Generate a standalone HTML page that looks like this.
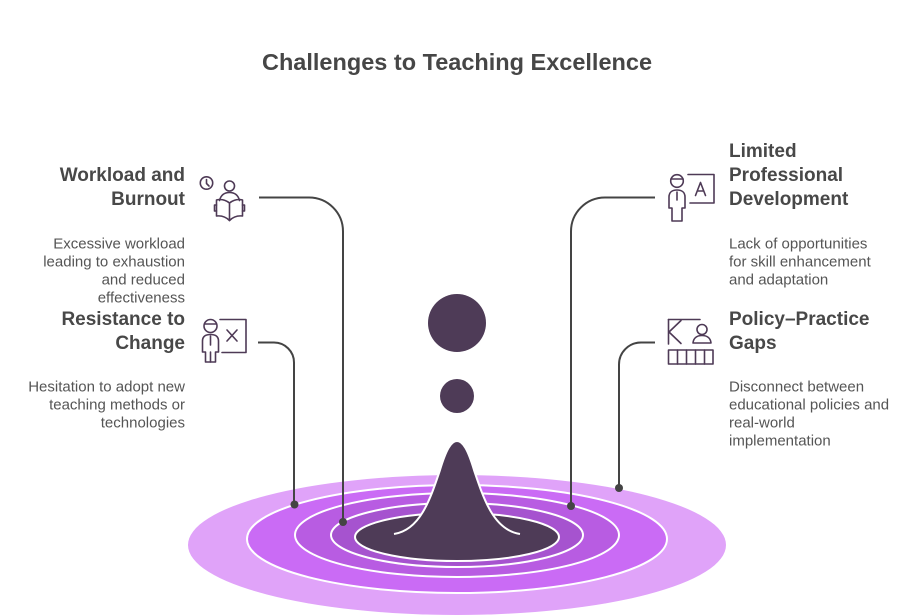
<!DOCTYPE html>
<html>
<head>
<meta charset="utf-8">
<style>
  html, body { margin: 0; padding: 0; background: #ffffff; }
  body { width: 921px; height: 616px; overflow: hidden; }
  svg { display: block; }
  .title { font-family: "Liberation Sans", sans-serif; font-weight: bold; font-size: 23.5px; fill: #464646; }
  .h { font-family: "Liberation Sans", sans-serif; font-weight: bold; font-size: 19px; fill: #484848; }
  .d { font-family: "Liberation Sans", sans-serif; font-size: 15px; fill: #555555; }
  .ic { fill: none; stroke: #4E3A56; stroke-width: 1.6; stroke-linecap: round; stroke-linejoin: round; }
  .cn { fill: none; stroke: #444444; stroke-width: 2; }
</style>
</head>
<body>
<svg width="921" height="616" viewBox="0 0 921 616" xmlns="http://www.w3.org/2000/svg">
  <!-- Title -->
  <text class="title" x="457" y="70" text-anchor="middle">Challenges to Teaching Excellence</text>

  <!-- Ripple ellipses -->
  <ellipse cx="457" cy="545" rx="269" ry="70" fill="#E0A3F9"/>
  <ellipse cx="457" cy="539" rx="210" ry="54" fill="#CA6BF5" stroke="#ffffff" stroke-width="2"/>
  <ellipse cx="457" cy="535" rx="162" ry="42" fill="#B85CE2" stroke="#ffffff" stroke-width="2"/>
  <ellipse cx="457" cy="535" rx="126" ry="32" fill="#A653CF" stroke="#ffffff" stroke-width="2"/>
  <ellipse cx="457" cy="537" rx="102" ry="24" fill="#4E3B57" stroke="#ffffff" stroke-width="2"/>

  <!-- Peak -->
  <path d="M394,534 C420,530 430,500 440,470 C446,450 451,441 457,441 C463,441 468,450 474,470 C484,500 494,530 520,534 L520,545 L394,545 Z" fill="#4E3B57"/>
  <path d="M394,534 C420,530 430,500 440,470 C446,450 451,441 457,441 C463,441 468,450 474,470 C484,500 494,530 520,534" fill="none" stroke="#ffffff" stroke-width="2" stroke-linejoin="round"/>

  <!-- Floating drops -->
  <circle cx="457" cy="323" r="29" fill="#4E3B57"/>
  <circle cx="457" cy="396" r="17" fill="#4E3B57"/>

  <!-- Connectors -->
  <path class="cn" d="M259,197.5 H309 A34,34 0 0 1 343,231.5 V522"/>
  <circle cx="343" cy="522" r="4" fill="#444444"/>

  <path class="cn" d="M258,342.5 H274 A20,20 0 0 1 294,362.5 V504"/>
  <circle cx="294.5" cy="504.5" r="4" fill="#444444"/>

  <path class="cn" d="M655,197.5 H605 A34,34 0 0 0 571,231.5 V506"/>
  <circle cx="571" cy="506" r="4" fill="#444444"/>

  <path class="cn" d="M655,342.5 H641 A22,22 0 0 0 619,364.5 V488"/>
  <circle cx="619" cy="488" r="4" fill="#444444"/>

  <!-- Icon: Workload (clock + reading person) -->
  <g class="ic">
    <circle cx="206.5" cy="183" r="6.2"/>
    <path d="M206.5,179.5 V183.5 L209,186"/>
    <circle cx="229.5" cy="186" r="5"/>
    <path d="M219.5,200.5 C221,194.5 225,192.5 229.5,192.5 C234,192.5 238,194.5 239.5,200.5"/>
    <path d="M229.5,203 C225,199.5 220,199 216.5,200 V216 C221,215.5 226,217 229.5,220.5 C233,217 238,215.5 242.5,216 V200 C239,199 234,199.5 229.5,203 Z"/>
    <path d="M229.5,203 V220.5"/>
    <path d="M216.5,205 H214.5 V211 H216.5"/>
    <path d="M242.5,205 H244.5 V211 H242.5"/>
  </g>

  <!-- Icon: Resistance (person + board with X) -->
  <g class="ic">
    <path d="M220,319.5 H246 V352.5 H222"/>
    <path d="M227,330 L237,341 M237,330 L227,341"/>
    <circle cx="210.5" cy="326" r="6.5"/>
    <path d="M204.5,324 H216.5"/>
    <path d="M202.5,352 V341 C202.5,336.5 205.5,334.5 210.5,334.5 C215.5,334.5 218.5,336.5 218.5,341 V352 H215.5 V362 H205.5 V352 Z"/>
    <path d="M210.5,336 V345"/>
    <path d="M210.5,352 V362"/>
  </g>

  <!-- Icon: Limited PD (person + board with A) -->
  <g class="ic">
    <path d="M688,174.5 H714 V203 H690"/>
    <path d="M695.5,195.5 L700.5,182.5 L705.5,195.5 M697.3,191 H703.7"/>
    <circle cx="677" cy="181" r="6.3"/>
    <path d="M671,179 H683"/>
    <path d="M669,208 V197 C669,192.5 672,190 677,190 C682,190 685,192.5 685,197 V208 H682 V221 H672 V208 Z"/>
    <path d="M677,192 V200"/>
  </g>

  <!-- Icon: Policy-Practice (K board + person + grid) -->
  <g class="ic">
    <path d="M668.5,319.5 H700"/>
    <path d="M668.5,319.5 V344"/>
    <path d="M681,320.5 L669,332 L681,343.5"/>
    <circle cx="702" cy="329.5" r="5"/>
    <path d="M693,343 C693.5,338 697,335.5 702,335.5 C707,335.5 710.5,338 711,343 Z"/>
    <rect x="668.5" y="350" width="44.5" height="14"/>
    <path d="M677.5,350 V364 M686.5,350 V364 M695.5,350 V364 M704.5,350 V364"/>
  </g>

  <!-- Left texts -->
  <text class="h" x="185" y="181" text-anchor="end">Workload and</text>
  <text class="h" x="185" y="205" text-anchor="end">Burnout</text>
  <text class="d" x="185" y="248.5" text-anchor="end">Excessive workload</text>
  <text class="d" x="185" y="266.5" text-anchor="end">leading to exhaustion</text>
  <text class="d" x="185" y="284.5" text-anchor="end">and reduced</text>
  <text class="d" x="185" y="302.5" text-anchor="end">effectiveness</text>

  <text class="h" x="185" y="325" text-anchor="end">Resistance to</text>
  <text class="h" x="185" y="349" text-anchor="end">Change</text>
  <text class="d" x="185" y="391.5" text-anchor="end">Hesitation to adopt new</text>
  <text class="d" x="185" y="409.5" text-anchor="end">teaching methods or</text>
  <text class="d" x="185" y="427.5" text-anchor="end">technologies</text>

  <!-- Right texts -->
  <text class="h" x="729" y="157">Limited</text>
  <text class="h" x="729" y="181">Professional</text>
  <text class="h" x="729" y="205">Development</text>
  <text class="d" x="729" y="248.5">Lack of opportunities</text>
  <text class="d" x="729" y="266.5">for skill enhancement</text>
  <text class="d" x="729" y="284.5">and adaptation</text>

  <text class="h" x="729" y="325">Policy–Practice</text>
  <text class="h" x="729" y="349">Gaps</text>
  <text class="d" x="729" y="391.5">Disconnect between</text>
  <text class="d" x="729" y="409.5">educational policies and</text>
  <text class="d" x="729" y="427.5">real-world</text>
  <text class="d" x="729" y="445.5">implementation</text>
</svg>
</body>
</html>
